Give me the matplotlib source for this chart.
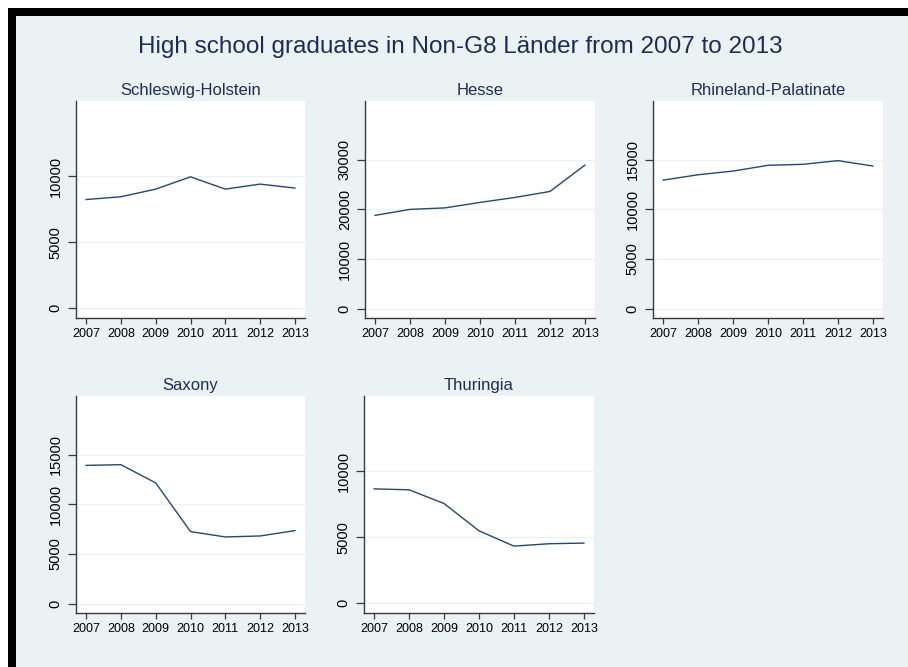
import numpy as np
import matplotlib.pyplot as plt
from matplotlib.patches import Rectangle

plt.rcParams['font.family'] = ['Liberation Sans', 'DejaVu Sans']

years = [2007, 2008, 2009, 2010, 2011, 2012, 2013]
states = ["Schleswig-Holstein", "Hesse", "Rhineland-Palatinate", "Saxony", "Thuringia"]
schleswig_holstein = [8230, 8440, 9020, 9950, 9020, 9400, 9100]
hesse = [18800, 20000, 20300, 21400, 22400, 23600, 28900]
rhineland_palatinate = [12940, 13480, 13850, 14430, 14530, 14900, 14360]
saxony = [13920, 13990, 12160, 7260, 6720, 6820, 7360]
thuringia = [8660, 8590, 7550, 5480, 4320, 4500, 4550]
series = [schleswig_holstein, hesse, rhineland_palatinate, saxony, thuringia]
yticks = [[0, 5000, 10000], [0, 10000, 20000, 30000], [0, 5000, 10000, 15000],
          [0, 5000, 10000, 15000], [0, 5000, 10000]]
ylims = [(-750, 15700), (-1850, 41800), (-930, 20900), (-930, 20900), (-750, 15700)]

W, H = 908, 667
bg = "#eaf2f3"
navy = "#24486e"
title_col = "#1e2d54"

fig = plt.figure(figsize=(W / 100, H / 100), dpi=100, facecolor="white")
fig.patches.append(Rectangle((8 / W, 0), 1 - 8 / W, 1 - 8 / H, transform=fig.transFigure,
                             facecolor=bg, edgecolor="none", zorder=-2))
fig.patches.append(Rectangle((8 / W, 1 - 16 / H), 1 - 8 / W, 8 / H, transform=fig.transFigure,
                             facecolor="black", edgecolor="none", zorder=-1))
fig.patches.append(Rectangle((8 / W, 0), 8 / W, 1 - 8 / H, transform=fig.transFigure,
                             facecolor="black", edgecolor="none", zorder=-1))

fig.text(460 / W, 1 - 47 / H, "High school graduates in Non-G8 Länder from 2007 to 2013",
         ha="center", va="center", fontsize=17.5, color=title_col)

# panel boxes in pixels: left, top, right, bottom
boxes = [(76, 101, 305, 318), (365, 101, 595, 318), (653, 101, 883, 318),
         (76, 396, 305, 613), (364, 396, 594, 613)]

for i, (l, t, r, b) in enumerate(boxes):
    ax = fig.add_axes([l / W, 1 - b / H, (r - l) / W, (b - t) / H])
    ax.set_facecolor("white")
    ax.plot(years, series[i], color=navy, linewidth=1.0)
    ax.set_xlim(2006.71, 2013.29)
    ax.set_ylim(*ylims[i])
    ax.set_xticks(years)
    ax.set_yticks(yticks[i])
    ax.set_yticklabels([str(v) for v in yticks[i]], rotation=90, va="center")
    ax.grid(axis="y", color=bg, linewidth=1.0)
    ax.set_axisbelow(True)
    for s in ["top", "right"]:
        ax.spines[s].set_visible(False)
    for s in ["left", "bottom"]:
        ax.spines[s].set_color("#3a3a3a")
        ax.spines[s].set_linewidth(1.0)
    ax.tick_params(axis="x", length=4, width=0.9, color="#3a3a3a", labelsize=9, pad=3)
    ax.tick_params(axis="y", length=5.5, width=0.9, color="#3a3a3a", labelsize=10.5, pad=4)
    ax.set_title(states[i], fontsize=12, color=title_col, pad=4)

plt.savefig("out.png", dpi=100, facecolor=fig.get_facecolor())
